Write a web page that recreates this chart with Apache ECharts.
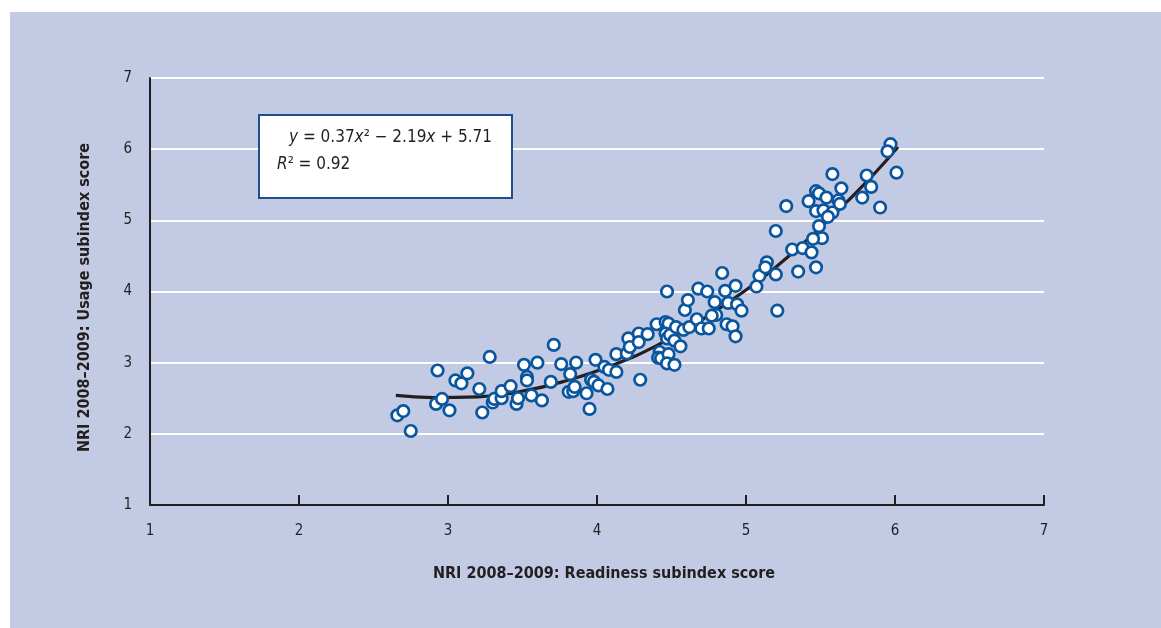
<!DOCTYPE html>
<html>
<head>
<meta charset="utf-8">
<script src="https://cdn.jsdelivr.net/npm/echarts@6/dist/echarts.min.js"></script>
<style>
  html, body { margin: 0; padding: 0; background: #ffffff; width: 1161px; height: 628px; overflow: hidden; }
  #chart { position: absolute; left: 10px; top: 12px; width: 1151px; height: 616px; }
</style>
</head>
<body>
<div id="chart"></div>
<script>
// Readiness (x) and Usage (y) subindex scores
const readiness = [2.66,2.70,2.75,2.93,2.92,2.96,3.01,3.05,3.09,3.13,3.21,3.23,3.28,3.30,3.31,3.36,3.36,3.42,3.46,3.47,
  3.51,3.53,3.53,3.56,3.60,3.63,3.69,3.71,3.76,3.82,3.81,3.84,3.85,3.86,3.93,3.95,3.96,3.98,3.99,4.01,
  4.05,4.07,4.08,4.13,4.13,4.20,4.21,4.22,4.28,4.28,4.34,4.40,4.47,4.46,4.48,4.46,4.47,4.49,4.52,4.53,
  4.56,4.42,4.41,4.43,4.48,4.47,4.52,4.58,4.59,4.61,4.62,4.67,4.68,4.70,4.74,4.75,4.29,4.84,4.86,4.93,
  4.79,4.88,4.94,4.97,4.80,4.77,4.87,4.91,4.93,5.09,5.07,5.14,5.13,5.97,5.95,6.01,5.81,5.84,5.78,5.90,
  5.58,5.64,5.47,5.49,5.54,5.42,5.62,5.63,5.47,5.52,5.58,5.55,5.27,5.49,5.20,5.51,5.45,5.31,5.38,5.44,
  5.47,5.35,5.20,5.21];
const usage = [2.26,2.32,2.04,2.89,2.42,2.49,2.33,2.75,2.71,2.85,2.63,2.30,3.08,2.44,2.49,2.50,2.60,2.67,2.42,2.50,
  2.97,2.80,2.75,2.54,3.00,2.47,2.73,3.25,2.98,2.84,2.59,2.60,2.66,3.00,2.57,2.35,2.76,2.73,3.04,2.68,
  2.94,2.63,2.90,2.87,3.12,3.13,3.34,3.22,3.41,3.29,3.40,3.54,4.00,3.57,3.55,3.41,3.34,3.39,3.31,3.50,
  3.23,3.15,3.07,3.06,3.12,2.99,2.97,3.46,3.74,3.88,3.50,3.61,4.04,3.48,4.00,3.48,2.76,4.26,4.01,4.08,
  3.85,3.84,3.82,3.73,3.67,3.66,3.54,3.51,3.37,4.22,4.07,4.41,4.34,6.07,5.97,5.67,5.63,5.47,5.32,5.18,
  5.65,5.45,5.41,5.38,5.32,5.27,5.28,5.23,5.13,5.14,5.11,5.05,5.20,4.92,4.85,4.75,4.74,4.59,4.61,4.55,
  4.34,4.28,4.24,3.73];

// Fitted trend curve
const trendX = [2.65, 2.9, 3.2, 3.5, 3.8, 4.1, 4.4, 4.7, 5.0, 5.3, 5.6, 5.85, 6.02];
const trendY = [2.54, 2.51, 2.52, 2.60, 2.75, 2.96, 3.24, 3.60, 4.02, 4.52, 5.10, 5.63, 6.03];

const axisTicks = [1, 2, 3, 4, 5, 6, 7];
const xTitle = 'NRI 2008–2009: Readiness subindex score';
const yTitle = 'NRI 2008–2009: Usage subindex score';

const FONT = '"Liberation Sans Narrow", "DejaVu Sans Condensed", "Roboto Condensed", "Liberation Sans", sans-serif';
const INK = '#231f20';

const points = readiness.map((x, i) => [x, usage[i]]);
const trend = trendX.map((x, i) => [x, trendY[i]]);

const chart = echarts.init(document.getElementById('chart'), null, { renderer: 'canvas' });
chart.setOption({
  backgroundColor: '#c3cae3',
  animation: false,
  grid: { left: 140, right: 117, top: 66, bottom: 123 },
  xAxis: {
    type: 'value', min: axisTicks[0], max: axisTicks[axisTicks.length - 1], interval: 1,
    name: xTitle, nameLocation: 'middle', nameGap: 61,
    nameTextStyle: { fontFamily: FONT, fontWeight: 'bold', fontSize: 16, color: INK, padding: [0, 0, 0, 14] },
    axisLine: { show: true, lineStyle: { color: INK, width: 2 } },
    axisTick: { show: true, inside: true, length: 10, lineStyle: { color: INK, width: 2 } },
    axisLabel: { fontFamily: FONT, fontSize: 15, color: INK, margin: 19 },
    splitLine: { show: false }
  },
  yAxis: {
    type: 'value', min: axisTicks[0], max: axisTicks[axisTicks.length - 1], interval: 1,
    name: yTitle, nameLocation: 'middle', nameGap: 57,
    nameTextStyle: { fontFamily: FONT, fontWeight: 'bold', fontSize: 16, color: INK, padding: [0, 12, 0, 0] },
    axisLine: { show: true, lineStyle: { color: INK, width: 2 } },
    axisTick: { show: false },
    axisLabel: { fontFamily: FONT, fontSize: 15, color: INK, margin: 18 },
    splitLine: { show: true, lineStyle: { color: '#ffffff', width: 2 } }
  },
  series: [
    {
      type: 'line', data: trend, smooth: true, showSymbol: false, z: 2,
      lineStyle: { color: INK, width: 3.2 }, silent: true
    },
    {
      type: 'scatter', data: points, symbol: 'circle', symbolSize: 11.5, z: 3,
      itemStyle: { color: '#ffffff', borderColor: '#0a569e', borderWidth: 2.7, opacity: 1 }
    }
  ],
  graphic: [
    {
      type: 'rect', left: 248, top: 102, z: 10,
      shape: { width: 253, height: 83 },
      style: { fill: '#ffffff', stroke: '#1d4f8d', lineWidth: 2 }
    },
    {
      type: 'text', left: 279, top: 117, z: 11,
      style: {
        text: '{i|y} = 0.37{i|x}² − 2.19{i|x} + 5.71',
        font: '17px ' + FONT, fill: INK,
        rich: { i: { fontStyle: 'italic', fontSize: 17, fontFamily: FONT, fill: INK } }
      }
    },
    {
      type: 'text', left: 267, top: 144, z: 11,
      style: {
        text: '{i|R}² = 0.92',
        font: '17px ' + FONT, fill: INK,
        rich: { i: { fontStyle: 'italic', fontSize: 17, fontFamily: FONT, fill: INK } }
      }
    }
  ]
});
</script>
</body>
</html>
